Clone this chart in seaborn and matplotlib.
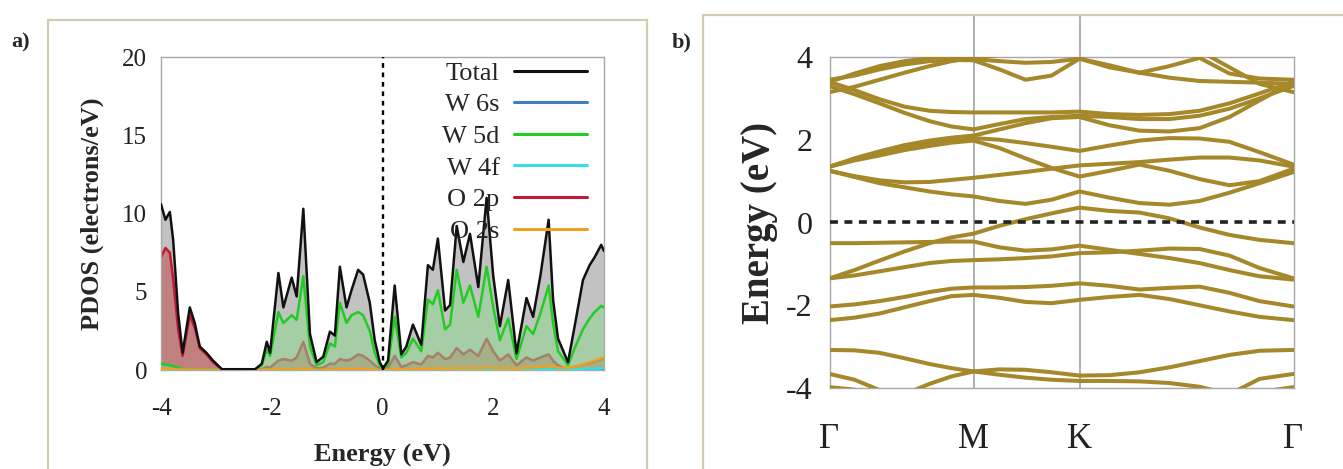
import matplotlib
matplotlib.use("Agg")
import matplotlib.pyplot as plt
from matplotlib.patches import Rectangle
from matplotlib.lines import Line2D
import numpy as np
import pandas as pd
import seaborn as sns

# ---------------- (a) projected density of states ----------------
energy = [-4.00, -3.92, -3.84, -3.78, -3.69, -3.61, -3.48, -3.39, -3.30, -3.18,
          -3.06, -2.90, -2.30, -2.18, -2.09, -2.03, -1.88, -1.79, -1.64, -1.55,
          -1.43, -1.31, -1.19, -1.07, -0.95, -0.86, -0.77, -0.65, -0.56, -0.44,
          -0.35, -0.23, -0.14, -0.05, 0.01, 0.10, 0.22, 0.34, 0.43, 0.55,
          0.70, 0.82, 0.91, 1.00, 1.13, 1.22, 1.34, 1.46, 1.58, 1.73,
          1.88, 2.00, 2.12, 2.27, 2.42, 2.60, 2.72, 2.85, 3.00, 3.08,
          3.17, 3.23, 3.35, 3.47, 3.62, 3.74, 3.83, 3.95, 4.00]

dos_total = [10.6, 9.6, 10.1, 8.3, 3.6, 1.1, 4.0, 3.0, 1.5, 1.1,
             0.6, 0.05, 0.05, 0.4, 1.8, 1.1, 6.2, 4.0, 5.9, 4.7,
             10.3, 2.3, 0.5, 0.85, 2.45, 2.2, 6.6, 4.0, 5.1, 6.4,
             6.1, 4.3, 1.9, 0.5, 0.1, 0.6, 5.4, 1.0, 1.5, 2.9,
             1.6, 6.7, 6.4, 8.4, 3.8, 4.15, 9.2, 6.9, 8.7, 5.3,
             11.0, 6.0, 2.8, 5.75, 1.06, 4.6, 3.4, 6.0, 9.6, 4.5,
             2.0, 1.5, 0.5, 2.8, 5.75, 6.7, 7.2, 8.0, 7.6]

dos_w6s = [0.02, 0.02, 0.02, 0.02, 0.01, 0.01, 0.01, 0.01, 0.01, 0.01,
           0.01, 0.00, 0.00, 0.01, 0.02, 0.01, 0.03, 0.02, 0.03, 0.02,
           0.04, 0.01, 0.01, 0.01, 0.02, 0.02, 0.03, 0.02, 0.02, 0.03,
           0.03, 0.02, 0.01, 0.01, 0.00, 0.01, 0.02, 0.01, 0.01, 0.02,
           0.01, 0.03, 0.03, 0.03, 0.02, 0.02, 0.04, 0.03, 0.03, 0.02,
           0.04, 0.03, 0.02, 0.02, 0.01, 0.02, 0.02, 0.03, 0.03, 0.02,
           0.01, 0.01, 0.01, 0.02, 0.03, 0.03, 0.04, 0.04, 0.04]

dos_w5d = [0.40, 0.35, 0.30, 0.25, 0.15, 0.05, 0.05, 0.03, 0.02, 0.02,
           0.01, 0.00, 0.03, 0.30, 1.30, 0.90, 3.70, 3.00, 3.50, 3.20,
           6.00, 1.50, 0.30, 0.50, 1.70, 1.50, 4.30, 3.00, 3.50, 3.70,
           3.50, 2.50, 1.10, 0.30, 0.05, 0.40, 3.40, 0.80, 1.10, 2.00,
           1.20, 4.50, 4.20, 5.10, 2.60, 2.90, 6.40, 4.30, 5.40, 3.40,
           6.60, 4.00, 1.90, 3.30, 0.70, 2.80, 2.30, 3.60, 5.40, 3.00,
           1.20, 0.90, 0.30, 1.40, 2.60, 3.30, 3.70, 4.10, 4.00]

dos_w4f = [0.02, 0.02, 0.02, 0.02, 0.01, 0.01, 0.01, 0.01, 0.01, 0.01,
           0.01, 0.00, 0.00, 0.01, 0.02, 0.02, 0.03, 0.03, 0.03, 0.03,
           0.04, 0.02, 0.01, 0.01, 0.02, 0.02, 0.03, 0.03, 0.03, 0.03,
           0.03, 0.03, 0.02, 0.01, 0.00, 0.01, 0.03, 0.02, 0.02, 0.03,
           0.02, 0.03, 0.03, 0.04, 0.03, 0.03, 0.04, 0.04, 0.04, 0.03,
           0.05, 0.04, 0.03, 0.04, 0.03, 0.04, 0.04, 0.05, 0.05, 0.05,
           0.05, 0.05, 0.05, 0.06, 0.07, 0.08, 0.08, 0.09, 0.10]

dos_o2p = [7.20, 7.80, 7.50, 5.80, 2.60, 0.90, 3.50, 2.70, 1.40, 1.00,
           0.50, 0.03, 0.00, 0.05, 0.20, 0.15, 0.60, 0.70, 0.60, 0.80,
           1.80, 0.40, 0.10, 0.15, 0.40, 0.40, 0.70, 0.60, 0.70, 1.00,
           0.90, 0.60, 0.30, 0.10, 0.00, 0.15, 0.90, 0.20, 0.30, 0.50,
           0.35, 0.90, 0.80, 1.10, 0.70, 0.80, 1.40, 1.00, 1.30, 0.90,
           2.00, 1.20, 0.60, 1.00, 0.30, 0.80, 0.60, 0.80, 1.00, 0.60,
           0.30, 0.20, 0.10, 0.20, 0.35, 0.45, 0.55, 0.70, 0.70]

dos_o2s = [0.05, 0.05, 0.05, 0.04, 0.03, 0.02, 0.03, 0.02, 0.02, 0.01,
           0.01, 0.00, 0.00, 0.01, 0.03, 0.02, 0.06, 0.05, 0.06, 0.05,
           0.10, 0.03, 0.01, 0.02, 0.04, 0.04, 0.06, 0.05, 0.06, 0.07,
           0.07, 0.05, 0.03, 0.01, 0.00, 0.02, 0.06, 0.03, 0.04, 0.06,
           0.05, 0.08, 0.08, 0.10, 0.08, 0.09, 0.12, 0.10, 0.12, 0.10,
           0.15, 0.12, 0.10, 0.12, 0.08, 0.15, 0.15, 0.20, 0.25, 0.20,
           0.15, 0.15, 0.15, 0.20, 0.35, 0.50, 0.60, 0.75, 0.80]

dos_labels = ["Total", "W 6s", "W 5d", "W 4f", "O 2p", "O 2s"]
dos_colors = ["#111111", "#3f7fc0", "#22cc22", "#33e0e8", "#c01838", "#f0a020"]
pdos_xticks = [-4, -2, 0, 2, 4]
pdos_yticks = [0, 5, 10, 15, 20]

# ---------------- (b) band structure along Γ-M-K-Γ ----------------
k_path = [0.00, 0.25, 0.50, 0.75, 1.00, 1.22, 1.44, 1.70, 1.96,
          2.22, 2.50, 2.80, 3.10, 3.40, 3.70, 4.00, 4.30, 4.64]
k_ticks = [0.00, 1.44, 2.50, 4.64]
k_labels = ["Γ", "M", "K", "Γ"]
band_yticks = [-4, -2, 0, 2, 4]

band_v8 = [-3.98, -4.04, -4.30, -4.50, -4.60, -4.65, -4.70, -4.70, -4.70,
           -4.70, -4.70, -4.70, -4.70, -4.65, -4.60, -4.45, -4.10, -3.98]
band_v7 = [-3.66, -3.80, -4.05, -4.15, -3.90, -3.72, -3.60, -3.68, -3.75,
           -3.80, -3.83, -3.83, -3.84, -3.88, -3.97, -4.15, -3.78, -3.66]
band_v6 = [-3.08, -3.09, -3.15, -3.28, -3.42, -3.52, -3.60, -3.55, -3.56,
           -3.62, -3.70, -3.69, -3.62, -3.50, -3.35, -3.20, -3.10, -3.08]
band_v5 = [-2.36, -2.30, -2.20, -2.05, -1.90, -1.78, -1.75, -1.82, -1.92,
           -1.95, -1.87, -1.80, -1.75, -1.85, -2.00, -2.15, -2.28, -2.36]
band_v4 = [-2.03, -1.98, -1.90, -1.80, -1.68, -1.60, -1.57, -1.57, -1.56,
           -1.53, -1.47, -1.53, -1.62, -1.58, -1.55, -1.70, -1.90, -2.03]
band_v3 = [-1.35, -1.28, -1.18, -1.08, -0.98, -0.93, -0.91, -0.89, -0.86,
           -0.82, -0.74, -0.72, -0.68, -0.63, -0.64, -0.80, -1.10, -1.35]
band_v2 = [-0.50, -0.50, -0.49, -0.48, -0.47, -0.46, -0.46, -0.60, -0.68,
           -0.65, -0.56, -0.66, -0.76, -0.86, -0.98, -1.15, -1.30, -1.38]
band_v1 = [-1.35, -1.15, -0.92, -0.70, -0.50, -0.36, -0.27, -0.08, 0.08,
           0.22, 0.36, 0.28, 0.24, 0.10, -0.12, -0.30, -0.42, -0.50]
band_c1 = [1.25, 1.10, 0.95, 0.85, 0.75, 0.68, 0.63, 0.52, 0.45,
           0.55, 0.75, 0.60, 0.47, 0.43, 0.52, 0.72, 0.95, 1.22]
band_c2 = [1.25, 1.12, 1.02, 0.97, 0.98, 1.03, 1.08, 1.15, 1.22,
           1.30, 1.38, 1.42, 1.46, 1.52, 1.57, 1.57, 1.50, 1.35]
band_c3 = [1.35, 1.50, 1.62, 1.75, 1.85, 1.93, 1.98, 1.80, 1.55,
           1.32, 1.11, 1.25, 1.40, 1.25, 1.05, 0.90, 1.00, 1.30]
band_c4 = [1.35, 1.52, 1.66, 1.80, 1.92, 2.00, 2.04, 2.00, 1.92,
           1.83, 1.73, 1.86, 1.98, 2.04, 2.03, 1.95, 1.70, 1.40]
band_c5 = [3.30, 3.10, 2.88, 2.65, 2.45, 2.32, 2.25, 2.38, 2.50,
           2.55, 2.58, 2.55, 2.50, 2.50, 2.58, 2.75, 3.00, 3.30]
band_c6 = [3.40, 3.20, 2.98, 2.80, 2.70, 2.67, 2.66, 2.66, 2.66,
           2.66, 2.68, 2.62, 2.60, 2.62, 2.70, 2.88, 3.12, 3.40]
band_c7 = [1.35, 1.55, 1.72, 1.87, 1.98, 2.05, 2.10, 2.25, 2.40,
           2.52, 2.55, 2.35, 2.22, 2.20, 2.28, 2.55, 2.95, 3.40]
band_c8 = [3.45, 3.55, 3.70, 3.82, 3.90, 3.93, 3.92, 3.70, 3.45,
           3.55, 3.96, 3.75, 3.62, 3.78, 3.98, 3.60, 3.48, 3.45]
band_c9 = [3.40, 3.60, 3.78, 3.90, 3.97, 3.98, 3.95, 3.90, 3.86,
           3.88, 3.96, 3.80, 3.62, 3.50, 3.42, 3.40, 3.38, 3.35]
band_c10 = [3.15, 3.28, 3.45, 3.62, 3.78, 3.90, 3.98, 4.05, 4.10,
            4.10, 4.05, 4.15, 4.20, 4.20, 4.15, 3.75, 3.35, 3.15]

bands = [band_v8, band_v7, band_v6, band_v5, band_v4, band_v3, band_v2,
         band_v1, band_c1, band_c2, band_c3, band_c4, band_c5, band_c6,
         band_c7, band_c8, band_c9, band_c10]

# ---------------- styling ----------------
sns.set_theme(style="white")
plt.rcParams["font.family"] = ["Liberation Serif", "DejaVu Serif"]
plt.rcParams["axes.edgecolor"] = "#a8a8a8"
plt.rcParams["axes.linewidth"] = 1.0

W, H = 1343, 469
fig = plt.figure(figsize=(W / 100, H / 100), dpi=100)
fig.patch.set_facecolor("white")

def fx(px):
    return px / W

def fy(py):
    return 1 - py / H

box_color = "#d2cdb0"
fig.add_artist(Rectangle((fx(48), fy(490)), fx(647) - fx(48), fy(20) - fy(490),
                         transform=fig.transFigure, fill=False,
                         edgecolor=box_color, linewidth=1.6))
fig.add_artist(Rectangle((fx(703), fy(490)), fx(1360) - fx(703), fy(15) - fy(490),
                         transform=fig.transFigure, fill=False,
                         edgecolor=box_color, linewidth=1.6))

fig.text(fx(21), fy(42), "a)", fontsize=16, fontweight="bold",
         ha="center", va="center")
fig.text(fx(682), fy(42), "b)", fontsize=16, fontweight="bold",
         ha="center", va="center")

# ---- panel a ----
axa = fig.add_axes([fx(161), fy(370), fx(604) - fx(161), fy(57) - fy(370)])
axa.set_facecolor("white")

axa.fill_between(energy, dos_total, 0, color="#c2c2c2", zorder=1, linewidth=0)
axa.fill_between(energy, dos_o2p, 0, color="#c05858", alpha=0.62, zorder=2,
                 linewidth=0)
sns.lineplot(x=energy, y=dos_o2p, color=dos_colors[4], linewidth=1.8,
             ax=axa, zorder=2.5)
axa.fill_between(energy, dos_w5d, 0, color="#8fd88f", alpha=0.55, zorder=3,
                 linewidth=0)
sns.lineplot(x=energy, y=dos_w5d, color=dos_colors[2], linewidth=1.8,
             ax=axa, zorder=4)
sns.lineplot(x=energy, y=dos_o2s, color=dos_colors[5], linewidth=1.8,
             ax=axa, zorder=4.2)
sns.lineplot(x=energy, y=dos_w4f, color=dos_colors[3], linewidth=1.6,
             ax=axa, zorder=4.1)
sns.lineplot(x=energy, y=dos_w6s, color=dos_colors[1], linewidth=1.6,
             ax=axa, zorder=4.05)
sns.lineplot(x=energy, y=dos_total, color=dos_colors[0], linewidth=1.8,
             ax=axa, zorder=5)
axa.axvline(0, color="black", linestyle=(0, (2.0, 2.0)), linewidth=1.7,
            zorder=6)

axa.set_xlim(-4, 4)
axa.set_ylim(0, 20)
axa.set_xticks(pdos_xticks)
axa.set_xticklabels([str(v) for v in pdos_xticks])
axa.set_yticks(pdos_yticks)
axa.set_yticklabels([str(v) for v in pdos_yticks])
axa.tick_params(axis="x", length=0, pad=20, labelsize=18, colors="#222222")
axa.tick_params(axis="y", direction="in", length=9, width=1, color="#a8a8a8",
                pad=10, labelsize=18, labelcolor="#222222")
axa.set_xlabel("Energy (eV)", fontsize=19, fontweight="bold")
axa.set_ylabel("PDOS (electrons/eV)", fontsize=19, fontweight="bold")
axa.xaxis.set_label_coords(0.5, -0.235)
axa.yaxis.set_label_coords(-0.128, 0.5)

handles = [Line2D([], [], color=c, linewidth=2.2) for c in dos_colors]
leg = axa.legend(handles, dos_labels, loc="upper right", markerfirst=False,
                 frameon=False, fontsize=19, handlelength=2.75,
                 handletextpad=0.55, labelspacing=0.31,
                 bbox_to_anchor=(0.985, 1.02), borderaxespad=0.0)
leg.set_zorder(7)

# ---- panel b ----
axb = fig.add_axes([fx(829.5), fy(388), fx(1293.5) - fx(829.5), fy(57) - fy(388)])
axb.set_facecolor("white")

band_frame = pd.DataFrame({
    "k": np.concatenate([k_path for _ in bands]),
    "E": np.concatenate(bands),
    "band": np.repeat(np.arange(len(bands)), len(k_path)),
})
sns.lineplot(data=band_frame, x="k", y="E", units="band", estimator=None,
             sort=False, color="#a5882a", linewidth=2.9, ax=axb, zorder=3,
             legend=False)
for kv in k_ticks[1:-1]:
    axb.plot([kv, kv], [0, 1.127], transform=axb.get_xaxis_transform(),
             color="#9a9a9a", linewidth=1.1, clip_on=False, zorder=2)
axb.axhline(0, color="#222222", linestyle=(0, (2.2, 1.8)), linewidth=2.6,
            zorder=5)

axb.set_xlim(k_ticks[0], k_ticks[-1])
axb.set_ylim(-4, 4)
axb.set_xticks(k_ticks)
axb.set_xticklabels(k_labels)
axb.set_yticks(band_yticks)
axb.set_yticklabels([str(v) for v in band_yticks])
axb.tick_params(axis="x", length=0, pad=25, labelsize=25, colors="#222222")
axb.tick_params(axis="y", direction="in", length=9, width=1, color="#a8a8a8",
                pad=12, labelsize=23, labelcolor="#222222")
axb.set_xlabel("")
axb.set_ylabel("Energy (eV)", fontsize=28, fontweight="bold")
axb.yaxis.set_label_coords(-0.112, 0.5)

fig.savefig("out.png", dpi=100, facecolor="white")
